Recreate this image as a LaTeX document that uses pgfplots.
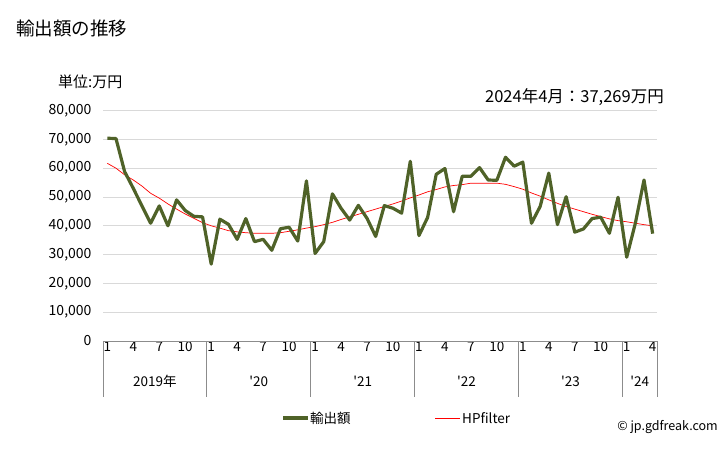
\documentclass[border=0pt]{standalone}
\usepackage{pgfplots}
\pgfplotsset{compat=1.18}
\usepackage{fontspec}
\setmainfont{Noto Sans CJK JP}
\definecolor{olivel}{HTML}{4F6228}
\definecolor{gridc}{HTML}{D9D9D9}
\definecolor{boxc}{HTML}{8C8C8C}
\pgfplotstableread{
m val hp
0 70400 61700
1 70300 60000
2 58800 57700
3 53000 55900
4 46900 53800
5 40900 51300
6 46900 49600
7 40000 47600
8 49000 45800
9 45300 44100
10 43300 42600
11 43100 41100
12 26700 40000
13 42300 39200
14 40500 38300
15 35300 37900
16 42500 37600
17 34500 37400
18 35300 37400
19 31500 37400
20 39000 37600
21 39500 38100
22 34700 38600
23 55600 39200
24 30400 39700
25 34500 40400
26 51100 41200
27 46100 42200
28 42000 43100
29 47100 44000
30 42600 44900
31 36300 45800
32 47000 46700
33 46100 47600
34 44400 48600
35 62400 49700
36 36600 50700
37 42900 51800
38 57900 52600
39 59900 53500
40 44900 54000
41 57200 54300
42 57200 54800
43 60200 54800
44 55900 54800
45 55800 54800
46 63800 54400
47 60700 53600
48 62100 52700
49 40900 51400
50 46700 50300
51 58300 49000
52 40400 47800
53 50100 46700
54 37800 45800
55 38900 44900
56 42500 44000
57 43000 43200
58 37400 42400
59 49900 41800
60 29100 41400
61 40900 40900
62 55900 40400
63 37269 40000
}\datatable
\begin{document}
\begin{tikzpicture}[x=1pt,y=1pt]
\useasboundingbox (0,0) rectangle (728,450);
\node[anchor=west,inner sep=0pt,font=\fontsize{18.5}{22}\selectfont] at (16,422) {輸出額の推移};
\node[anchor=west,inner sep=0pt,font=\fontsize{15}{18}\selectfont] at (58,368) {単位:万円};
\node[anchor=east,inner sep=0pt,font=\fontsize{16.5}{19}\selectfont] at (664,353) {2024年4月：37,269万円};
\begin{axis}[
  at={(103pt,109pt)}, anchor=south west,
  scale only axis, width=554pt, height=230.4pt,
  xmin=-0.5, xmax=63.5, ymin=0, ymax=80000,
  axis line style={draw=none},
  clip=false,
  ytick={0,10000,...,80000},
  ymajorgrids, grid style={gridc, line width=0.9pt},
  major tick length=0pt,
  scaled y ticks=false,
  /pgf/number format/1000 sep={,},
  /pgf/number format/assume math mode=true,
  yticklabel style={font=\fontsize{14}{16}\selectfont, anchor=east, xshift=-8pt},
  xtick={0,3,...,63},
  xticklabels={1,4,7,10,1,4,7,10,1,4,7,10,1,4,7,10,1,4,7,10,1,4},
  xticklabel style={font=\fontsize{13.5}{15}\selectfont, anchor=center, yshift=-6pt},
]
\draw[boxc, line width=0.9pt] (axis cs:-0.5,0) -- (axis cs:63.5,0);
\draw[boxc, line width=0.9pt] (axis cs:-0.5,0) -- ++(0pt,-56pt);
\draw[boxc, line width=0.9pt] (axis cs:11.5,0) -- ++(0pt,-56pt);
\draw[boxc, line width=0.9pt] (axis cs:23.5,0) -- ++(0pt,-56pt);
\draw[boxc, line width=0.9pt] (axis cs:35.5,0) -- ++(0pt,-56pt);
\draw[boxc, line width=0.9pt] (axis cs:47.5,0) -- ++(0pt,-56pt);
\draw[boxc, line width=0.9pt] (axis cs:59.5,0) -- ++(0pt,-56pt);
\draw[boxc, line width=0.9pt] (axis cs:63.5,0) -- ++(0pt,-56pt);
\node[font=\fontsize{13.5}{15}\selectfont] at ([yshift=-40pt]axis cs:5.5,0) {2019年};
\node[font=\fontsize{13.5}{15}\selectfont] at ([yshift=-40pt]axis cs:17.5,0) {\textquotesingle20};
\node[font=\fontsize{13.5}{15}\selectfont] at ([yshift=-40pt]axis cs:29.5,0) {\textquotesingle21};
\node[font=\fontsize{13.5}{15}\selectfont] at ([yshift=-40pt]axis cs:41.5,0) {\textquotesingle22};
\node[font=\fontsize{13.5}{15}\selectfont] at ([yshift=-40pt]axis cs:53.5,0) {\textquotesingle23};
\node[font=\fontsize{13.5}{15}\selectfont] at ([yshift=-40pt]axis cs:61.5,0) {\textquotesingle24};
\addplot[red, line width=0.7pt, no markers] table[x=m,y=hp] {\datatable};
\addplot[olivel, line width=3.2pt, no markers, line join=round] table[x=m,y=val] {\datatable};
\end{axis}
\draw[olivel, line width=3.2pt] (283,32) -- (308,32);
\node[anchor=west,inner sep=0pt,font=\fontsize{13.5}{15}\selectfont] at (310,32) {輸出額};
\draw[red, line width=0.9pt] (435,32) -- (460,32);
\node[anchor=west,inner sep=0pt,font=\fontsize{13.5}{15}\selectfont] at (462,32) {HPfilter};
\node[anchor=east,inner sep=0pt,font=\fontsize{12.5}{14}\selectfont] at (718,23) {© jp.gdfreak.com};
\end{tikzpicture}
\end{document}
